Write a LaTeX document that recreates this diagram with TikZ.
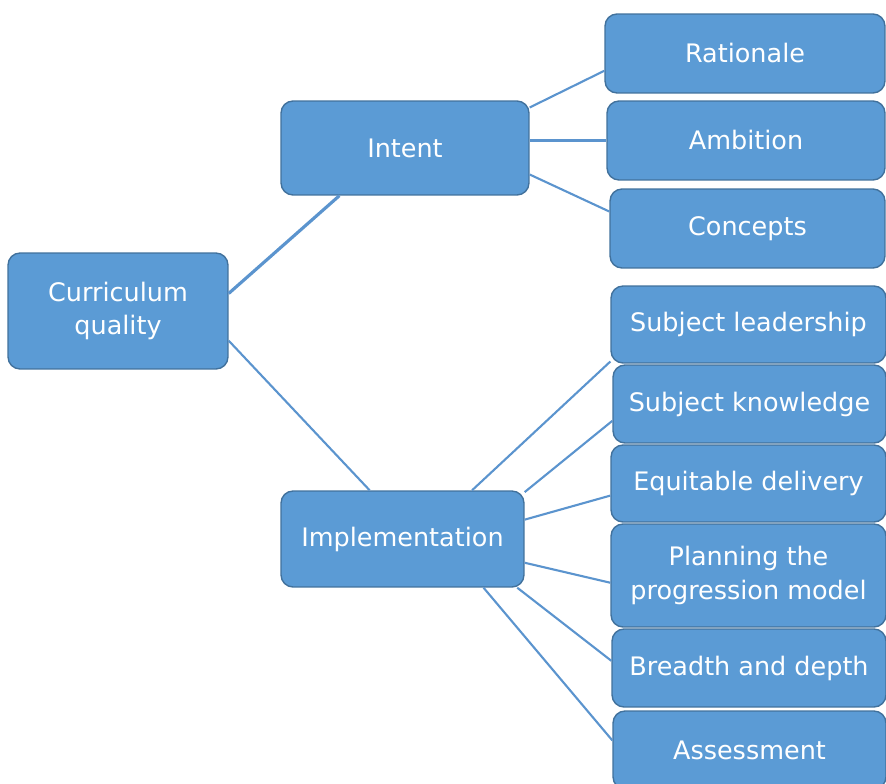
\documentclass[tikz,border=0pt]{standalone}
\usepackage{fontspec}
\setmainfont{DejaVu Sans}
\usepackage{tikz}

\definecolor{boxblue}{HTML}{5B9BD5}
\definecolor{boxedge}{HTML}{41719C}
\definecolor{linkblue}{HTML}{5B94CE}

\begin{document}
\begin{tikzpicture}[x=0.02cm,y=-0.02cm,
		box/.style={draw=boxedge, line width=0.8pt, fill=boxblue, rounded corners=0.24cm,
			text=white, align=center, inner sep=0pt,
			font=\fontsize{14.5}{19}\selectfont},
		link/.style={draw=linkblue, line width=1.2pt}]
		\clip (0,0) rectangle (886,784);
		
		\node[box, minimum width=4.4cm, minimum height=2.32cm] (cq) at (118,311) {Curriculum\\quality};
		\node[box, minimum width=4.96cm, minimum height=1.88cm] (intent) at (405,148) {Intent};
		\node[box, minimum width=4.86cm, minimum height=1.92cm] (impl) at (402.5,539) {Implementation};
		
		\node[box, minimum width=5.6cm, minimum height=1.58cm] (rat) at (745,53.5) {Rationale};
		\node[box, minimum width=5.56cm, minimum height=1.58cm] (amb) at (746,140.5) {Ambition};
		\node[box, minimum width=5.5cm, minimum height=1.58cm] (conc) at (747.5,228.5) {Concepts};
		
		\node[box, minimum width=5.5cm, minimum height=1.54cm] (lead) at (748.5,324.5) {Subject leadership};
		\node[box, minimum width=5.46cm, minimum height=1.56cm] (know) at (749.5,404) {Subject knowledge};
		\node[box, minimum width=5.5cm, minimum height=1.54cm] (deliv) at (748.5,483.5) {Equitable delivery};
		\node[box, minimum width=5.5cm, minimum height=2.06cm] (plan) at (748.5,575.5) {Planning the\\progression model};
		\node[box, minimum width=5.48cm, minimum height=1.56cm] (depth) at (749,668) {Breadth and depth};
		\node[box, minimum width=5.46cm, minimum height=1.56cm] (assess) at (749.5,750) {Assessment};
		
		% top level
		\draw[link, line width=1.8pt] (cq.9) -- (intent.216);
		\draw[link] (cq.-15) -- (impl.124);
		
		% intent
		\draw[link] (intent.18) -- (rat.187);
		\draw[link] (amb.west -| intent.east) -- (amb.west);
		\draw[link] (intent.-12) -- (conc.173);
		
		% implementation
		\draw[link] (impl.35) -- (lead.195);
		\draw[link] (impl.21) -- (know.187);
		\draw[link] (impl.9) -- (deliv.185);
		\draw[link] (impl.-11) -- (plan.183);
		\draw[link] (impl.-23) -- (depth.177);
		\draw[link] (impl.-31) -- (assess.176);
	\end{tikzpicture}
\end{document}
